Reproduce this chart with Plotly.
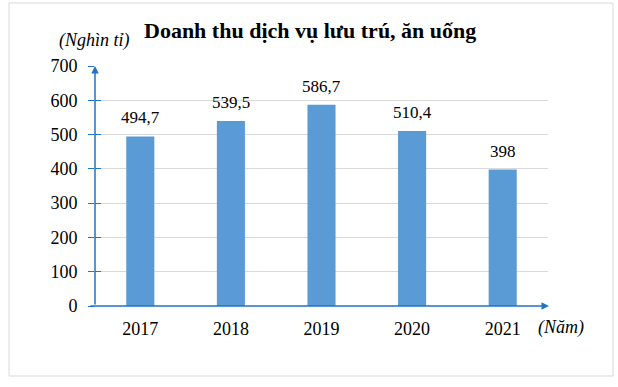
import plotly.graph_objects as go

years = ["2017", "2018", "2019", "2020", "2021"]
revenue = [494.7, 539.5, 586.7, 510.4, 398]
labels = ["494,7", "539,5", "586,7", "510,4", "398"]
y_ticks = [0, 100, 200, 300, 400, 500, 600, 700]

W, H = 618, 387
L, R, T, B = 95, 70, 66, 81
pw, ph = W - L - R, H - T - B

FONT = "Liberation Serif"
AXIS = "#1F74C4"

def f(size, **kw):
    return dict(family=FONT, size=size, color="#000", **kw)

fig = go.Figure(go.Bar(
    x=years, y=revenue,
    marker=dict(color="#5B9BD5", line=dict(width=0)),
    hoverinfo="skip",
))

fig.update_layout(
    width=W, height=H, margin=dict(l=L, r=R, t=T, b=B),
    paper_bgcolor="white", plot_bgcolor="white", bargap=0.69,
    showlegend=False,
    font=f(18),
    xaxis=dict(type="category", range=[-0.5, 4.5], showgrid=False,
               showline=False, ticks="", tickfont=f(18),
               ticklabelstandoff=10),
    yaxis=dict(range=[0, 700], tickvals=y_ticks, showgrid=True,
               gridcolor="#D9D9D9", gridwidth=1, zeroline=False,
               showline=False, ticks="outside", ticklen=6,
               tickcolor=AXIS, tickwidth=1.3, tickfont=f(18),
               ticklabelstandoff=7),
    yaxis2=dict(range=[0, 700], tickvals=y_ticks, overlaying="y",
                side="left", anchor="x", showgrid=False, zeroline=False,
                showline=False, ticks="inside", ticklen=6, tickcolor=AXIS,
                tickwidth=1.3, showticklabels=False),
)

# Invisible trace to activate the inside-tick overlay axis
fig.add_trace(go.Scatter(x=years, y=revenue, yaxis="y2", mode="none",
                         hoverinfo="skip", showlegend=False))

# Data labels (category axis positions are serial indices)
for i, (v, lab) in enumerate(zip(revenue, labels)):
    fig.add_annotation(x=i, y=v, xref="x", yref="y", text=lab,
                       showarrow=False, yanchor="bottom", yshift=7,
                       font=f(17))

# Axis arrows
fig.add_annotation(x=-0.5, y=700, xref="x", yref="y", ax=-0.5, ay=0,
                   axref="x", ayref="y", showarrow=True, arrowhead=2,
                   arrowsize=1, arrowwidth=1.5, arrowcolor=AXIS, text="")
fig.add_annotation(x=(549 - L) / pw, y=0, xref="x domain", yref="y",
                   ax=-6 / pw, ay=0, axref="x domain", ayref="y",
                   showarrow=True, arrowhead=2, arrowsize=1, arrowwidth=1.5,
                   arrowcolor=AXIS, text="")

# Title and unit labels
fig.add_annotation(x=(310 - L) / pw, y=(H - 30 - B) / ph, xref="paper", yref="paper",
                   text="<b>Doanh thu dịch vụ lưu trú, ăn uống</b>", showarrow=False,
                   font=f(22), xanchor="center", yanchor="middle")
fig.add_annotation(x=(94 - L) / pw, y=(H - 41 - B) / ph, xref="paper", yref="paper",
                   text="<i>(Nghìn tỉ)</i>", showarrow=False,
                   font=f(18), xanchor="center", yanchor="middle")
fig.add_annotation(x=(561 - L) / pw, y=(H - 327 - B) / ph, xref="paper", yref="paper",
                   text="<i>(Năm)</i>", showarrow=False,
                   font=f(18), xanchor="center", yanchor="middle")

# Outer border
fig.add_shape(type="rect", xref="paper", yref="paper",
              x0=(9 - L) / pw, x1=(613 - L) / pw,
              y0=(H - 376 - B) / ph, y1=(H - 3 - B) / ph,
              line=dict(color="#D9D9D9", width=1), fillcolor="rgba(0,0,0,0)")

fig.write_html("out.html", config={"displayModeBar": False},
               post_script="document.body.style.margin='0';")
